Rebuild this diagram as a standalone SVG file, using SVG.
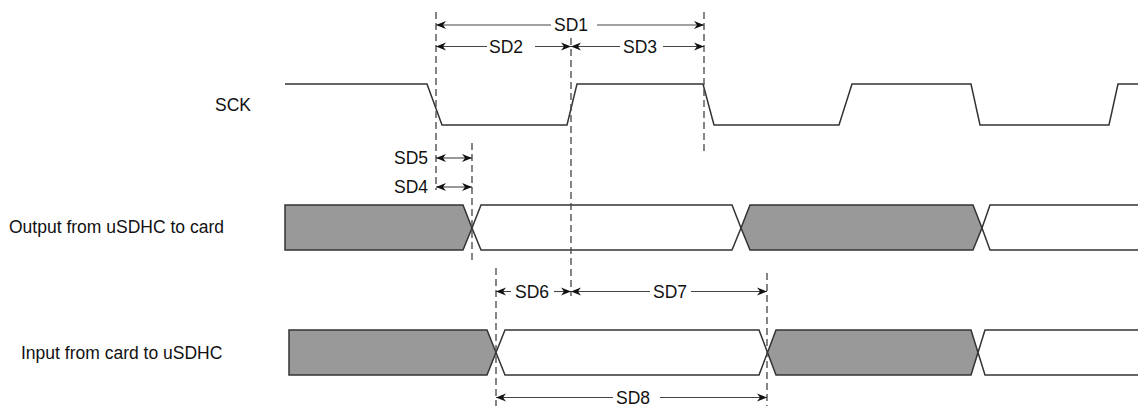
<svg xmlns="http://www.w3.org/2000/svg" width="1138" height="406" viewBox="0 0 1138 406">
<style>
.lbl{font-family:"Liberation Sans",Arial,sans-serif;font-size:17.5px;fill:#111}
.sig{fill:none;stroke:#333;stroke-width:1.5;stroke-linejoin:miter}
.gray{fill:#999;stroke:#333;stroke-width:1.5}
.white{fill:#fff;stroke:#333;stroke-width:1.5}
.dash{stroke:#444;stroke-width:1.3;stroke-dasharray:7,4;fill:none}
.dim{stroke:#444;stroke-width:1.1;fill:none;marker-end:url(#ah)}
</style>
<defs>
<marker id="ah" markerUnits="userSpaceOnUse" viewBox="-11 -5 12 10" refX="0" refY="0" markerWidth="12" markerHeight="10" orient="auto">
<path d="M0,0 L-10,-4 L-7,0 L-10,4 Z" fill="#111"/>
</marker>
</defs>
<rect width="1138" height="406" fill="#fff"/>
<g id="labels">
<text class="lbl" x="215" y="111">SCK</text>
<text class="lbl" x="9" y="233">Output from uSDHC to card</text>
<text class="lbl" x="21" y="359">Input from card to uSDHC</text>
</g>
<g id="sck">
<path class="sig" d="M285,84 L427,84 L442,125 L567,125 L577,84 L703,84 L714,125 L839,125 L852,84 L971,84 L980,125 L1109,125 L1118,84 L1138,84"/>
</g>
<g id="output">
<path class="gray" d="M285,205 L463,205 L472,228 L463,250 L285,250 Z"/>
<path class="white" d="M472,228 L481,205 L732,205 L741,228 L732,250 L481,250 Z"/>
<path class="gray" d="M741,228 L750,205 L973,205 L982,228 L973,250 L750,250 Z"/>
<path class="white" d="M1140,205 L990,205 L982,228 L990,250 L1140,250"/>
</g>
<g id="input">
<path class="gray" d="M289,330 L487,330 L496,352.5 L487,375 L289,375 Z"/>
<path class="white" d="M496,352.5 L505,330 L759,330 L767.5,352.5 L759,375 L505,375 Z"/>
<path class="gray" d="M767.5,352.5 L776,330 L971,330 L978,352.5 L971,375 L776,375 Z"/>
<path class="white" d="M1140,330 L985,330 L978,352.5 L985,375 L1140,375"/>
</g>
<g id="connectors">
<line class="dash" x1="436" y1="12" x2="436" y2="190"/>
<line class="dash" x1="472" y1="143" x2="472" y2="261"/>
<line class="dash" x1="571" y1="38" x2="571" y2="296"/>
<line class="dash" x1="704" y1="12" x2="704" y2="155"/>
<line class="dash" x1="496" y1="268" x2="496" y2="406"/>
<line class="dash" x1="767" y1="273" x2="767" y2="406"/>
<line class="dim" x1="551" y1="25" x2="436" y2="25"/>
<line class="dim" x1="597" y1="25" x2="704" y2="25"/>
<line class="dim" x1="487" y1="46.5" x2="436" y2="46.5"/>
<line class="dim" x1="535" y1="46.5" x2="571" y2="46.5"/>
<line class="dim" x1="620" y1="46.5" x2="571" y2="46.5"/>
<line class="dim" x1="663" y1="46.5" x2="704" y2="46.5"/>
<line class="dim" x1="454" y1="158" x2="436" y2="158"/>
<line class="dim" x1="454" y1="158" x2="472" y2="158"/>
<line class="dim" x1="454" y1="187" x2="436" y2="187"/>
<line class="dim" x1="454" y1="187" x2="472" y2="187"/>
<line class="dim" x1="511" y1="291.5" x2="496" y2="291.5"/>
<line class="dim" x1="554" y1="291.5" x2="571" y2="291.5"/>
<line class="dim" x1="650" y1="291.5" x2="571" y2="291.5"/>
<line class="dim" x1="691" y1="291.5" x2="767" y2="291.5"/>
<line class="dim" x1="613" y1="397.5" x2="496" y2="397.5"/>
<line class="dim" x1="660" y1="397.5" x2="767" y2="397.5"/>
</g>
<g id="dim-labels">
<text class="lbl" x="554" y="31">SD1</text>
<text class="lbl" x="489" y="52.5">SD2</text>
<text class="lbl" x="623" y="52.5">SD3</text>
<text class="lbl" x="428" y="164" text-anchor="end">SD5</text>
<text class="lbl" x="428" y="193" text-anchor="end">SD4</text>
<text class="lbl" x="515" y="298">SD6</text>
<text class="lbl" x="653" y="298">SD7</text>
<text class="lbl" x="616" y="404">SD8</text>
</g>
</svg>
